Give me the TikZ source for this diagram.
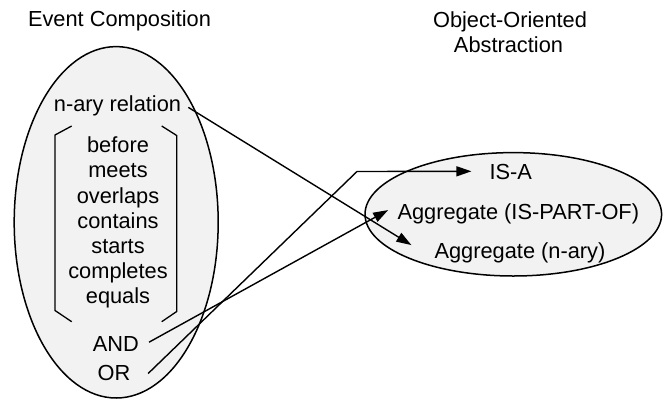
\documentclass[tikz,border=0pt]{standalone}
\usepackage{fontspec}
\setmainfont{Liberation Sans}
\usetikzlibrary{arrows.meta}
\begin{document}
\begin{tikzpicture}[x=1pt,y=-1pt,
  blob/.style={draw=black, line width=1.5pt, fill=black!5},
  lbl/.style={inner sep=0pt, anchor=base, font=\fontsize{21.8pt}{25pt}\selectfont},
  conn/.style={line width=1.4pt, -{Triangle[length=15pt,width=10pt]}},
  brk/.style={line width=1.3pt}]
\useasboundingbox (0,0) rectangle (669,402);
% ellipses
\draw[blob] (116.2,222.3) ellipse [x radius=102pt, y radius=175.7pt];
\draw[blob] (513.3,214.3) ellipse [x radius=148.3pt, y radius=61.7pt];
% titles
\node[lbl] (title1) at (119.5,26) {Event Composition};
\node[lbl] (title2a) at (510,27.5) {Object-Oriented};
\node[lbl] (title2b) at (508.5,52) {Abstraction};
% left contents
\node[lbl] (nary) at (117.5,111.5) {n-ary relation};
\foreach \w [count=\i] in {before,meets,overlaps,contains,starts,completes,equals}
  \node[lbl] (rel\i) at (118,{152.7+25.2*(\i-1)}) {\w};
\node[lbl] (andop) at (115.8,351.7) {AND};
\node[lbl] (orop) at (114,380) {OR};
% brackets
\draw[brk] (71.7,126) -- (55,135) -- (55,310.5) -- (71.7,321.7);
\draw[brk] (161.7,126) -- (176.7,135.5) -- (176.7,311.5) -- (161.7,321.7);
% right contents
\node[lbl] (isa) at (510.8,179.5) {IS-A};
\node[lbl] (aggp) at (518.3,219) {Aggregate (IS-PART-OF)};
\node[lbl] (aggn) at (520,258) {Aggregate (n-ary)};
% connectors
\draw[conn] ([shift={(7,1.5)}]nary.east) -- ([shift={(-23,-7.3)}]aggn.west);
\draw[conn] ([shift={(10,-2)}]andop.east) -- ([shift={(-9.2,-3.3)}]aggp.west);
\coordinate (bend) at (357,171.5);
\draw[conn] ([shift={(17.6,1)}]orop.east) -- (bend) -- ([shift={(-18,-0.7)}]isa.west);
\end{tikzpicture}
\end{document}
